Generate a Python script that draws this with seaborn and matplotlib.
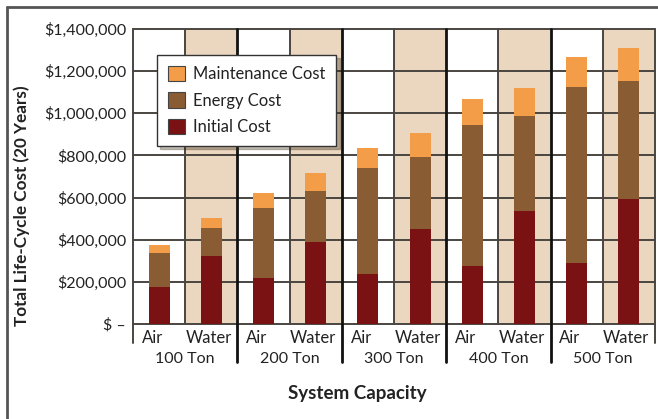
import numpy as np
import pandas as pd
import matplotlib
matplotlib.use("Agg")
import matplotlib.pyplot as plt
import seaborn as sns
from matplotlib.lines import Line2D
from matplotlib.patches import Patch

# Life-cycle cost components (USD, 20 years)
capacities = ["100 Ton", "200 Ton", "300 Ton", "400 Ton", "500 Ton"]
systems = ["Air", "Water"]
air_initial = [175000, 217000, 237000, 277000, 288000]
air_energy = [160000, 332000, 502000, 667000, 835000]
air_maintenance = [38000, 71000, 95000, 122000, 143000]
water_initial = [323000, 388000, 451000, 535000, 592000]
water_energy = [132000, 245000, 340000, 454000, 561000]
water_maintenance = [50000, 82000, 114000, 130000, 155000]
y_ticks = [0, 200000, 400000, 600000, 800000, 1000000, 1200000, 1400000]

rows = []
for i, cap in enumerate(capacities):
    for sys_name, ini, ene, mnt in [("Air", air_initial, air_energy, air_maintenance),
                                   ("Water", water_initial, water_energy, water_maintenance)]:
        rows.append({"slot": f"{cap} {sys_name}", "Initial Cost": ini[i],
                     "Energy Cost": ene[i], "Maintenance Cost": mnt[i]})
df = pd.DataFrame(rows)
df["to_energy"] = df["Initial Cost"] + df["Energy Cost"]
df["to_maint"] = df["to_energy"] + df["Maintenance Cost"]
order = list(df["slot"])

C_MAINT = "#F39D48"
C_ENERGY = "#8A5C33"
C_INITIAL = "#7A1112"
C_TAN = "#EBD7BF"
C_GRID = "#4a4540"
C_TEXT = "#222222"

sns.set_theme(style="white")
plt.rcParams["font.family"] = ["Lato", "DejaVu Sans"]

W, H = 658, 419
fig = plt.figure(figsize=(W / 100, H / 100), dpi=100)
ax = fig.add_axes([133 / W, 1 - 324 / H, (655 - 133) / W, (324 - 29) / H])

n = len(order)
ax.set_xlim(-0.5, n - 0.5)
ax.set_ylim(0, 1400000)

# alternating column backgrounds
for k in range(n):
    if k % 2 == 1:
        ax.axvspan(k - 0.5, k + 0.5, color=C_TAN, zorder=0, lw=0)

# grid
for yv in y_ticks:
    ax.axhline(yv, color=C_GRID, lw=1.4, zorder=1, clip_on=False)
for k in range(n + 1):
    xv = k - 0.5
    if k in (0, n):
        ax.axvline(xv, ymin=-0.064, ymax=1, color=C_GRID, lw=1.4, zorder=1, clip_on=False)
    elif k % 2 == 0:
        ax.axvline(xv, ymin=-0.129, ymax=1, color="#111111", lw=2.0, zorder=1, clip_on=False)
    else:
        ax.axvline(xv, color=C_GRID, lw=1.4, zorder=1)

# stacked bars: totals first, then overlay lower segments
bw = 0.4
sns.barplot(data=df, x="slot", y="to_maint", order=order, color=C_MAINT,
            width=bw, saturation=1, ax=ax, zorder=3, linewidth=0)
sns.barplot(data=df, x="slot", y="to_energy", order=order, color=C_ENERGY,
            width=bw, saturation=1, ax=ax, zorder=4, linewidth=0)
sns.barplot(data=df, x="slot", y="Initial Cost", order=order, color=C_INITIAL,
            width=bw, saturation=1, ax=ax, zorder=5, linewidth=0)

ax.set_xlim(-0.5, n - 0.5)
ax.set_ylim(0, 1400000)
for s in ax.spines.values():
    s.set_visible(False)

ax.set_yticks(y_ticks)
ax.set_yticklabels(["$ \u2013" if v == 0 else f"${v:,.0f}" for v in y_ticks],
                   fontsize=11.5, color=C_TEXT)
ax.tick_params(axis="y", length=0, pad=5)
ax.set_xticks([])
ax.set_xlabel("")
ax.set_ylabel("")

# category labels under the axis
trans = ax.get_xaxis_transform()
for k, slot in enumerate(order):
    name = "Air" if k % 2 == 0 else "Water"
    off = -0.13 if name == "Air" else -0.05
    ax.text(k + off, -0.047, name, transform=trans, ha="center", va="center",
            fontsize=12, color=C_TEXT)
for i, cap in enumerate(capacities):
    ax.text(2 * i + 0.5, -0.12, cap, transform=trans, ha="center", va="center",
            fontsize=11.5, color=C_TEXT)

fig.text(22 / W, 1 - 206 / H, "Total Life-Cycle Cost (20 Years)", rotation=90,
         ha="center", va="center", fontsize=12.3, fontweight="bold", color=C_TEXT)
fig.text(357 / W, 1 - 393 / H, "System Capacity", ha="center", va="center",
         fontsize=13.5, fontweight="bold", color=C_TEXT)

handles = [Patch(facecolor=C_MAINT, edgecolor="#444444", lw=0.8, label="Maintenance Cost"),
           Patch(facecolor=C_ENERGY, edgecolor="#444444", lw=0.8, label="Energy Cost"),
           Patch(facecolor=C_INITIAL, edgecolor="#444444", lw=0.8, label="Initial Cost")]
leg = ax.legend(handles=handles, loc="upper left",
                bbox_to_anchor=(157 / W, 1 - 55 / H), bbox_transform=fig.transFigure,
                fontsize=11.9, frameon=True, fancybox=False, framealpha=1,
                shadow={"ox": 2.5, "oy": -2.5, "color": "#3a2a1a", "alpha": 0.3},
                handlelength=1.05, handleheight=1.05, handletextpad=0.5,
                labelspacing=0.62, borderpad=0.65, borderaxespad=0)
leg.get_frame().set_edgecolor("#333333")
leg.get_frame().set_linewidth(1.0)
leg.set_zorder(10)
for t in leg.get_texts():
    t.set_color(C_TEXT)

# outer frame
fig.add_artist(Line2D([7 / W, 1], [1 - 7 / H, 1 - 7 / H], color="#555555", lw=2,
                      transform=fig.transFigure))
fig.add_artist(Line2D([7 / W, 7 / W], [0, 1 - 7 / H], color="#555555", lw=2,
                      transform=fig.transFigure))

fig.savefig("out.png", dpi=100)
